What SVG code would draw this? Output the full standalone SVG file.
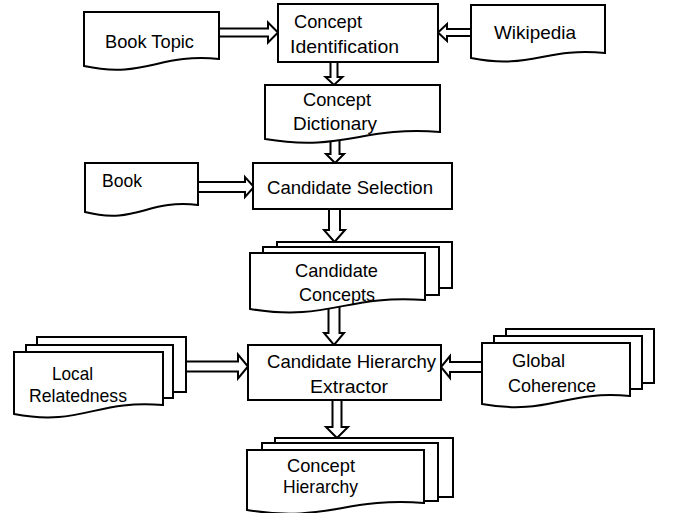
<svg xmlns="http://www.w3.org/2000/svg" width="674" height="513" viewBox="0 0 674 513">
<style>
.shape{fill:#ffffff;stroke:#000000;stroke-width:2;stroke-linejoin:miter}
.arr{fill:#ffffff;stroke:#000000;stroke-width:2;stroke-linejoin:miter}
text{font-family:"Liberation Sans",Arial,sans-serif;font-size:18.5px;fill:#000000}
</style>
<rect x="0" y="0" width="674" height="513" fill="#ffffff"/>
<g id="connectors">
<path class="arr" d="M212,28.5 H268 V22.5 L278,32.5 L268,42.5 V36.5 H212"/>
<path class="arr" d="M478,29 H447 V24 L438,32.5 L447,41 V36 H478"/>
<path class="arr" d="M330.5,56 V77 H325.5 L334,85 L342.5,77 H337.5 V56"/>
<path class="arr" d="M330.5,132 V154 H326 L335,163 L344,154 H339.5 V132"/>
<path class="arr" d="M190,182 H245 V177 L254,187 L245,197 V192 H190"/>
<path class="arr" d="M329,203 V230 H324 L334.5,242 L345,230 H340 V203"/>
<path class="arr" d="M328.5,296 V333 H324 L334,345 L344,333 H339.5 V296"/>
<path class="arr" d="M178,361.5 H238 V354.5 L248,366.5 L238,378.5 V371.5 H178"/>
<path class="arr" d="M490,362 H450 V356 L441,367 L450,378 V372 H490"/>
<path class="arr" d="M332.5,394 V427 H326 L337,438 L348,427 H341.5 V394"/>
</g>
<g id="book-topic">
<path class="shape" d="M84,12 H219 V59 C158,53 145,79 84,66 Z"/>
<text x="105" y="48" textLength="89" lengthAdjust="spacingAndGlyphs">Book Topic</text>
</g>
<g id="concept-identification">
<rect class="shape" x="278" y="4" width="160" height="58"/>
<text x="294" y="28" textLength="68" lengthAdjust="spacingAndGlyphs">Concept</text>
<text x="290" y="53" textLength="109" lengthAdjust="spacingAndGlyphs">Identification</text>
</g>
<g id="wikipedia">
<path class="shape" d="M471,5 H605 V53 C545,47 531,70 471,58 Z"/>
<text x="494" y="39" textLength="82" lengthAdjust="spacingAndGlyphs">Wikipedia</text>
</g>
<g id="concept-dictionary">
<path class="shape" d="M265,85 H440 V132 C361,126 344,152 265,139 Z"/>
<text x="303" y="106" textLength="68" lengthAdjust="spacingAndGlyphs">Concept</text>
<text x="293" y="130" textLength="84" lengthAdjust="spacingAndGlyphs">Dictionary</text>
</g>
<g id="book">
<path class="shape" d="M85,163 H198 V205 C147,199 136,225 85,212 Z"/>
<text x="102" y="187" textLength="40" lengthAdjust="spacingAndGlyphs">Book</text>
</g>
<g id="candidate-selection">
<rect class="shape" x="253" y="163" width="199" height="46"/>
<text x="267" y="194" textLength="166" lengthAdjust="spacingAndGlyphs">Candidate Selection</text>
</g>
<g id="candidate-concepts">
<rect class="shape" x="277" y="242" width="175" height="46"/>
<rect class="shape" x="263" y="247" width="176" height="48"/>
<path class="shape" d="M250,253 H425 V300 C346,294 329,322 250,309 Z"/>
<text x="295" y="277" textLength="83" lengthAdjust="spacingAndGlyphs">Candidate</text>
<text x="299" y="301" textLength="76" lengthAdjust="spacingAndGlyphs">Concepts</text>
</g>
<g id="local-relatedness">
<rect class="shape" x="37" y="337" width="149" height="55"/>
<rect class="shape" x="26" y="345" width="147" height="53"/>
<path class="shape" d="M14,352 H163 V405 C96,399 81,427 14,414 Z"/>
<text x="52" y="380" textLength="41" lengthAdjust="spacingAndGlyphs">Local</text>
<text x="29" y="402" textLength="98" lengthAdjust="spacingAndGlyphs">Relatedness</text>
</g>
<g id="candidate-hierarchy-extractor">
<rect class="shape" x="248" y="345" width="193" height="55"/>
<text x="267" y="368" textLength="169" lengthAdjust="spacingAndGlyphs">Candidate Hierarchy</text>
<text x="310" y="393" textLength="78" lengthAdjust="spacingAndGlyphs">Extractor</text>
</g>
<g id="global-coherence">
<rect class="shape" x="506" y="329" width="148" height="54"/>
<rect class="shape" x="494" y="336" width="148" height="53"/>
<path class="shape" d="M482,343 H630 V396 C563,390 549,416 482,404 Z"/>
<text x="512" y="367" textLength="53" lengthAdjust="spacingAndGlyphs">Global</text>
<text x="508" y="392" textLength="88" lengthAdjust="spacingAndGlyphs">Coherence</text>
</g>
<g id="concept-hierarchy">
<rect class="shape" x="275" y="438" width="178" height="59"/>
<rect class="shape" x="262" y="443" width="176" height="58"/>
<path class="shape" d="M247,450 H424 V503 C344,497 327,523 247,510 Z"/>
<text x="287" y="472" textLength="68" lengthAdjust="spacingAndGlyphs">Concept</text>
<text x="283" y="493" textLength="75" lengthAdjust="spacingAndGlyphs">Hierarchy</text>
</g>
</svg>
